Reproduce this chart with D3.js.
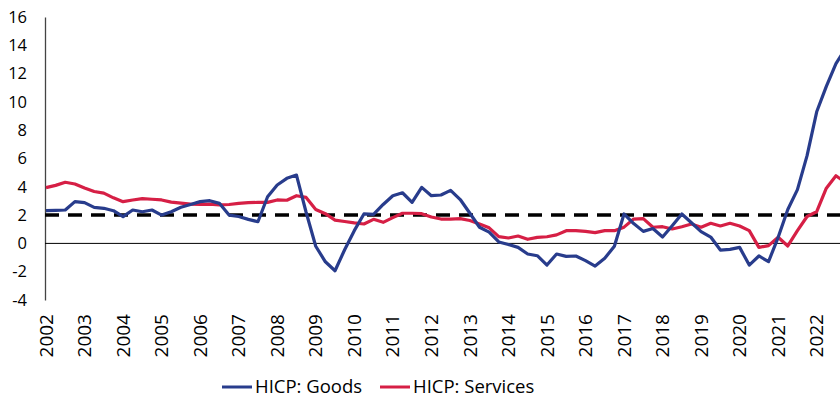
<html>
  <head>
    <meta charset="utf-8" />
    <script src="https://cdn.jsdelivr.net/npm/d3@7"></script>
    <style>
      body { margin: 0; background: #fff; }
      text { font-family: "Open Sans", sans-serif; fill: #000; }
    </style>
  </head>
  <body>
    <div id="chart"></div>
  </body>
  <script>
    // quarterly values, 2002 Q1 .. 2022 Q4
    var goods = [
      2.31, 2.33, 2.36, 2.95, 2.88, 2.55, 2.48, 2.31, 1.89, 2.36, 2.24, 2.36,
      2.0, 2.24, 2.55, 2.75, 2.95, 3.02, 2.83, 2.0, 1.9, 1.7, 1.53, 3.3,
      4.13, 4.6, 4.83, 2.2, -0.2, -1.3, -1.93, -0.45, 0.9, 2.08, 2.05, 2.75,
      3.37, 3.58, 2.9, 3.96, 3.37, 3.42, 3.75, 3.1, 2.13, 1.14, 0.8, 0.1,
      -0.08, -0.28, -0.75, -0.87, -1.53, -0.75, -0.92, -0.89, -1.22, -1.6, -1.05, -0.2,
      2.08, 1.4, 0.85, 1.05, 0.45, 1.25, 2.08, 1.46, 0.83, 0.45, -0.47, -0.42,
      -0.28, -1.53, -0.89, -1.29, 0.43, 2.4, 3.8, 6.2, 9.3, 11.1, 12.7, 13.8
    ];
    var services = [
      3.94, 4.1, 4.32, 4.2, 3.92, 3.67, 3.55, 3.22, 2.95, 3.07, 3.17, 3.12,
      3.07, 2.92, 2.85, 2.78, 2.76, 2.78, 2.72, 2.75, 2.83, 2.88, 2.9, 2.9,
      3.07, 3.05, 3.37, 3.25, 2.4, 2.1, 1.65, 1.55, 1.45, 1.37, 1.7, 1.49,
      1.82, 2.13, 2.13, 2.1, 1.87, 1.72, 1.72, 1.75, 1.62, 1.37, 1.1, 0.48,
      0.38, 0.52, 0.29, 0.43, 0.47, 0.6, 0.9, 0.9, 0.85, 0.76, 0.9, 0.9,
      1.15, 1.72, 1.75, 1.14, 1.18, 1.02, 1.18, 1.37, 1.14, 1.42, 1.23, 1.42,
      1.23, 0.9, -0.28, -0.16, 0.43, -0.18, 0.9, 1.9, 2.24, 3.9, 4.78, 4.3
    ];
    var years = d3.range(2002, 2023);
    var yTicks = [-4, -2, 0, 2, 4, 6, 8, 10, 12, 14, 16];
    var target = 2;
    var seriesNames = ["HICP: Goods", "HICP: Services"];
    var seriesColors = ["#283c8c", "#d61f45"];

    var width = 840, height = 400;

    var svg = d3.select("#chart").append("svg")
      .attr("width", width)
      .attr("height", height);

    var xScale = d3.scaleLinear().domain([0, goods.length - 1]).range([46, 845.6]);
    var yScale = d3.scaleLinear().domain([-4, 16]).range([300, 17]);

    // y axis
    var yAxis = svg.append("g")
      .attr("transform", "translate(45,0)")
      .call(d3.axisLeft(yScale).tickValues(yTicks).tickSize(0).tickPadding(18)
        .tickFormat((d) => String(d)));
    yAxis.select(".domain").attr("stroke", "#444").attr("stroke-width", 1.3);
    yAxis.selectAll("text")
      .style("font-family", "Open Sans")
      .style("font-size", "16.5px")
      .attr("fill", "#000");

    // x labels, one per year (Q1)
    svg.append("g")
      .selectAll("text")
      .data(years)
      .join("text")
      .attr("transform", (d) => "translate(" + xScale((d - 2002) * 4) + ",314) rotate(-90)")
      .attr("dy", "0.35em")
      .style("text-anchor", "end")
      .style("font-size", "19px")
      .text((d) => d);

    // zero line
    svg.append("line")
      .attr("x1", 45).attr("x2", width)
      .attr("y1", yScale(0)).attr("y2", yScale(0))
      .attr("stroke", "#000").attr("stroke-width", 1);

    // 2% line
    svg.append("line")
      .attr("x1", 45).attr("x2", width)
      .attr("y1", yScale(target)).attr("y2", yScale(target))
      .attr("stroke", "#000").attr("stroke-width", 3.5)
      .attr("stroke-dasharray", "14,9");

    var line = d3.line()
      .x((d, i) => xScale(i))
      .y((d) => yScale(d));

    [services, goods].forEach(function (s, k) {
      svg.append("path")
        .datum(s)
        .attr("fill", "none")
        .attr("stroke", seriesColors[1 - k])
        .attr("stroke-width", 3.2)
        .attr("stroke-linejoin", "round")
        .attr("d", line);
    });

    // legend
    var legendX = [222, 380];
    var legend = svg.append("g").attr("transform", "translate(0,387)");
    seriesNames.forEach(function (name, k) {
      legend.append("line")
        .attr("x1", legendX[k]).attr("x2", legendX[k] + 30)
        .attr("stroke", seriesColors[k]).attr("stroke-width", 3);
      legend.append("text")
        .attr("x", legendX[k] + 33)
        .attr("dy", "0.35em")
        .style("font-size", "18.5px")
        .text(name);
    });
  </script>
</html>
